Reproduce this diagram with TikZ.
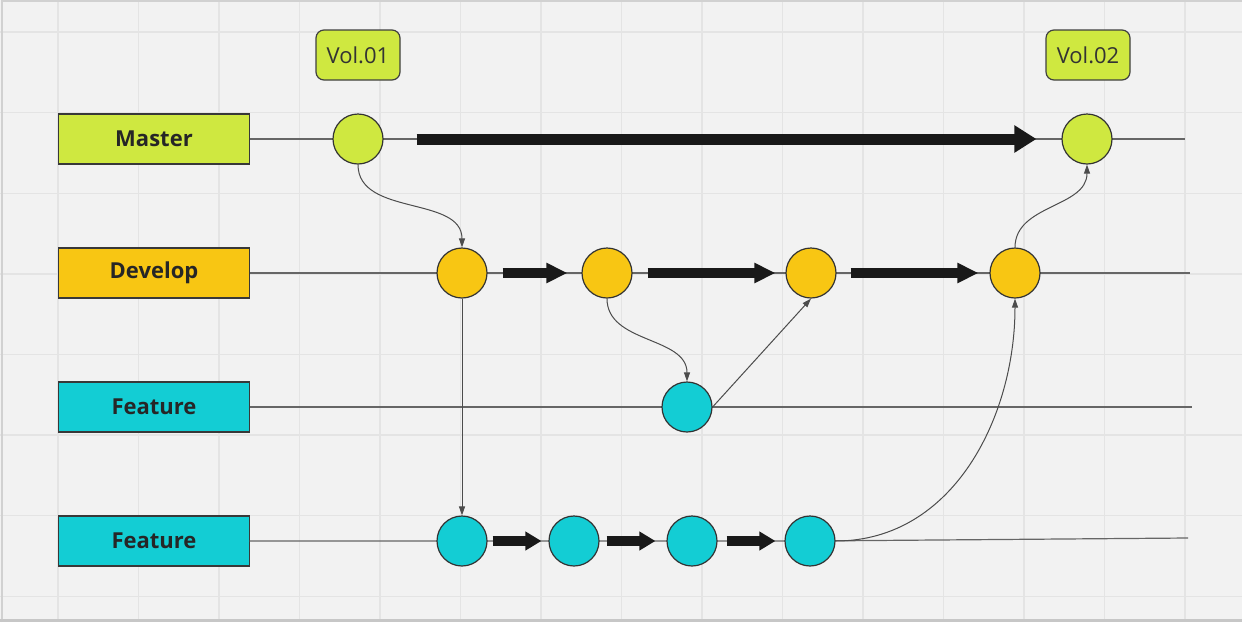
\documentclass[tikz,border=0pt]{standalone}
\usepackage{fontspec}
\setmainfont{Open Sans}
\usepackage{tikz}
\usetikzlibrary{arrows.meta}
\usetikzlibrary{positioning}

\definecolor{bgcol}{HTML}{F2F2F2}
\definecolor{gridcol}{HTML}{E4E4E4}
\definecolor{mastergreen}{HTML}{CFE840}
\definecolor{developgold}{HTML}{F8C613}
\definecolor{featurecyan}{HTML}{13CDD4}

\begin{document}
\begin{tikzpicture}[x=0.5pt, y=-0.5pt, font=\fontsize{11}{13}\selectfont]
 \tikzstyle{branch}=[draw=black!78, line width=0.7pt, outer sep=0pt, minimum width=95.5pt, minimum height=25pt, inner sep=0pt, font=\fontsize{11}{13}\selectfont\bfseries, text=black!85]
 \tikzstyle{commit}=[draw=black!80, circle, line width=0.6pt, minimum size=25pt, inner sep=0pt]
 \tikzstyle{tag}=[draw=black!75, line width=0.6pt, rounded corners=4pt, fill=mastergreen, minimum width=42pt, minimum height=25pt, text=black!80]
 \tikzstyle{lane}=[draw=black!60, line width=0.6pt]
 \tikzstyle{merge}=[color=black!70, line width=0.5pt, -{Triangle[length=4.5pt,width=3pt]}]
 \tikzstyle{push}=[draw=black!90, line width=5pt, -{Triangle[length=10.5pt,width=9.5pt]}]
 \tikzstyle{pushsmall}=[draw=black!90, line width=5pt, -{Triangle[length=8pt,width=9pt]}]

 % canvas
 \useasboundingbox (0,0) rectangle (1242,622);
 \fill[bgcol] (0,0) rectangle (1242,622);
 \foreach \i in {0,...,14}
   \draw[gridcol, line width=0.7pt] ({58+80.5*\i},0) -- ({58+80.5*\i},622);
 \foreach \j in {0,...,7}
   \draw[gridcol, line width=0.7pt] (0,{32+80.6*\j}) -- (1242,{32+80.6*\j});
 \draw[black!18, line width=1pt] (2,622) -- (2,1) -- (1242,1);
 \draw[black!22, line width=1.5pt] (0,620.5) -- (1242,620.5);

 % branches
 \node[branch, fill=mastergreen] (master) at (154,139) {Master};
 \node[branch, fill=developgold] (develop) [below=42pt of master] {Develop};
 \node[branch, fill=featurecyan] (feature) [below=42pt of develop] {Feature};
 \node[branch, fill=featurecyan] (featureB) [below=42pt of feature] {Feature};

 \node[tag] (vol1) at (358,55) {Vol.01};
 \node[tag] (vol2) at (1088,55) {Vol.02};

 \coordinate (masterEnd) at (1185,139);
 \coordinate (developEnd) at (1190,273);
 \coordinate (featureEnd) at (1192,407);
 \coordinate (featureBEnd) at (1188,538);
 \coordinate (featureBLast) at (810,541);
 \draw[lane] (master.east) -- (masterEnd);
 \draw[lane] (develop.east) -- (developEnd);
 \draw[lane] (feature.east) -- (featureEnd);
 \draw[lane] (featureB.east) -- (featureBLast) -- (featureBEnd);

 % commits
 \node[commit, fill=mastergreen] (m1) at (358,139) {};
 \node[commit, fill=mastergreen] (m2) at (1087,139) {};
 \node[commit, fill=developgold] (d1) at (462,273) {};
 \node[commit, fill=developgold] (d2) at (607,273) {};
 \node[commit, fill=developgold] (d3) at (811,273) {};
 \node[commit, fill=developgold] (d4) at (1015,273) {};
 \node[commit, fill=featurecyan] (f1) at (687,407) {};
 \node[commit, fill=featurecyan] (g1) at (462,541) {};
 \node[commit, fill=featurecyan] (g2) at (574,541) {};
 \node[commit, fill=featurecyan] (g3) at (692,541) {};
 \node[commit, fill=featurecyan] (g4) at (featureBLast) {};

 % big arrows
 \draw[push, line width=5.5pt, -{Triangle[length=11pt,width=13pt]}, shorten <=16.5pt, shorten >=12.5pt] (m1) -- (m2);
 \draw[push, shorten <=7.5pt, shorten >=7pt] (d1) -- (d2);
 \draw[push, shorten <=7.5pt, shorten >=5pt] (d2) -- (d3);
 \draw[push, shorten <=7pt, shorten >=5.5pt] (d3) -- (d4);
 \draw[pushsmall, shorten <=2.5pt, shorten >=3.5pt] (g1) -- (g2);
 \draw[pushsmall, shorten <=3.5pt, shorten >=5.5pt] (g2) -- (g3);
 \draw[pushsmall, shorten <=4.5pt, shorten >=4.5pt] (g3) -- (g4);

 % merges
 \path[merge]
   (m1.south) edge[out=-90, in=90] (d1.north)
   (d2.south) edge[out=-90, in=90] (f1.north)
   (f1.east) edge (d3.south)
   (d1.south) edge (g1.north)
   (g4.east) edge[out=0, in=-90] (d4.south)
   (d4.north) edge[out=90, in=-90] (m2.south);
\end{tikzpicture}
\end{document}
